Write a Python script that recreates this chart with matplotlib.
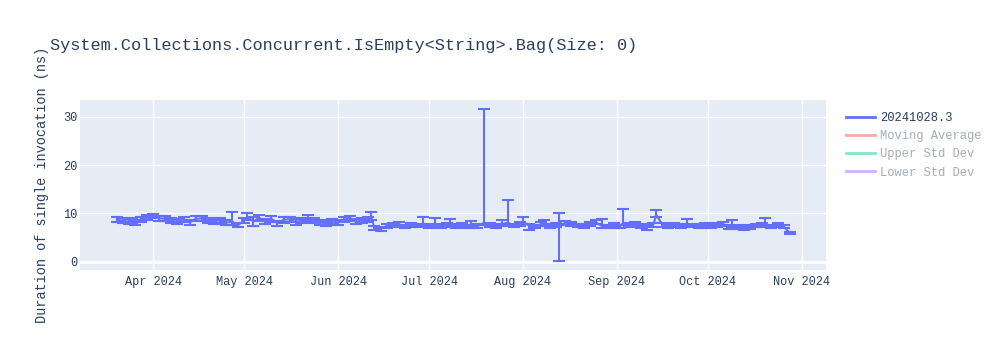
import matplotlib
matplotlib.use("Agg")
import matplotlib.pyplot as plt
import matplotlib.dates as mdates
from matplotlib.lines import Line2D
from datetime import datetime

# benchmark runs (2024), mean duration and error bar extents (ns)
month_days = {
    3: [20, 22, 24, 25, 26, 28, 30],
    4: [1, 3, 5, 7, 9, 11, 13, 15, 17, 19, 21, 23, 25, 27, 29],
    5: [1, 2, 4, 6, 8, 10, 12, 14, 16, 18, 20, 22, 24, 26, 28, 30],
    6: [1, 3, 5, 7, 9, 11, 12, 13, 15, 17, 19, 21, 23, 25, 27, 29],
    7: [1, 3, 5, 7, 8, 10, 12, 14, 15, 17, 19, 21, 23, 25, 27, 29, 31],
    8: [1, 3, 5, 7, 8, 10, 12, 13, 15, 17, 19, 21, 23, 25, 27, 29, 31],
    9: [2, 3, 5, 7, 9, 11, 13, 14, 16, 18, 20, 22, 24, 26, 28, 30],
    10: [2, 4, 6, 8, 9, 11, 13, 15, 17, 19, 20, 22, 24, 26, 28],
}

values = [
    8.7, 8.5, 8.3, 8.6, 8.1, 8.8, 9.2,
    9.4, 9.0, 8.9, 8.5, 8.3, 8.8, 8.2, 8.9, 9.0, 8.5, 8.4, 8.6, 8.1, 8.3, 7.6,
    8.5, 9.3, 8.4, 9.1, 8.3, 8.9, 8.0, 8.7, 8.8, 8.2, 8.6, 9.0, 8.5, 8.2, 7.9, 8.4,
    8.1, 8.7, 9.0, 8.3, 8.6, 8.7, 9.1, 7.0, 6.8, 7.4, 7.6, 7.8, 7.3, 7.7, 7.5, 7.8,
    7.4, 7.9, 7.4, 7.7, 7.8, 7.4, 7.7, 7.3, 7.9, 7.4, 8.0, 7.7, 7.4, 7.8, 8.1, 7.5, 7.9,
    8.3, 7.5, 7.3, 7.8, 7.9, 7.4, 7.7, 7.5, 8.1, 7.9, 7.5, 7.4, 7.8, 8.2, 7.4, 7.3, 7.6,
    7.3, 8.0, 7.7, 7.8, 7.4, 7.2, 7.7, 9.7, 7.7, 7.4, 7.7, 7.4, 7.7, 7.5, 7.3, 7.7,
    7.4, 7.7, 7.8, 7.2, 7.6, 7.2, 7.0, 7.2, 7.5, 7.7, 7.9, 7.3, 7.6, 7.3, 6.0,
]

err_minus = [
    0.5, 0.5, 0.5, 0.5, 0.5, 0.5, 0.5,
    0.4, 0.5, 0.5, 0.5, 0.5, 0.5, 0.5, 0.5, 0.5, 0.5, 0.5, 0.5, 0.5, 0.6, 0.4,
    0.5, 0.7, 0.9, 0.6, 0.5, 0.6, 0.5, 0.6, 0.5, 0.6, 0.5, 0.6, 0.5, 0.5, 0.5, 0.5,
    0.5, 0.5, 0.5, 0.5, 0.5, 0.5, 0.5, 0.4, 0.4, 0.4, 0.4, 0.4, 0.4, 0.4, 0.4, 0.4,
    0.4, 0.4, 0.4, 0.4, 0.4, 0.4, 0.4, 0.4, 0.4, 0.4, 0.4, 0.4, 0.4, 0.4, 0.5, 0.4, 0.4,
    0.5, 0.9, 0.4, 0.4, 0.4, 0.4, 0.4, 7.4, 0.4, 0.4, 0.4, 0.4, 0.4, 0.4, 0.4, 0.4, 0.4,
    0.4, 0.4, 0.4, 0.4, 0.4, 0.7, 0.4, 0.5, 0.4, 0.4, 0.4, 0.4, 0.4, 0.4, 0.4, 0.4,
    0.4, 0.4, 0.4, 0.4, 0.4, 0.4, 0.4, 0.4, 0.4, 0.4, 0.4, 0.4, 0.4, 0.4, 0.15,
]

err_plus = [
    0.5, 0.5, 0.5, 0.5, 0.5, 0.5, 0.5,
    0.4, 0.5, 0.5, 0.5, 0.5, 0.5, 0.5, 0.5, 0.5, 0.5, 0.5, 0.5, 0.5, 2.0, 0.4,
    0.5, 0.7, 0.8, 0.6, 0.5, 0.6, 0.5, 0.6, 0.5, 0.6, 0.5, 0.6, 0.5, 0.5, 0.5, 0.5,
    0.5, 0.5, 0.5, 0.5, 0.5, 0.5, 1.3, 0.4, 0.4, 0.4, 0.4, 0.4, 0.4, 0.4, 0.4, 1.5,
    0.4, 1.2, 0.4, 0.4, 1.0, 0.4, 0.4, 0.4, 0.6, 0.4, 23.7, 0.4, 0.4, 0.9, 4.7, 0.4, 0.4,
    1.0, 0.4, 0.4, 0.4, 0.8, 0.4, 0.4, 2.5, 0.4, 0.4, 0.4, 0.4, 0.4, 0.4, 1.5, 0.4, 0.4,
    0.4, 2.9, 0.4, 0.4, 0.4, 0.4, 0.4, 1.0, 0.4, 0.4, 0.4, 0.4, 1.2, 0.4, 0.4, 0.4,
    0.4, 0.4, 0.4, 0.4, 1.1, 0.4, 0.4, 0.4, 0.4, 0.4, 1.1, 0.4, 0.4, 0.4, 0.15,
]

month_ticks = [4, 5, 6, 7, 8, 9, 10, 11]
legend_names = ["20241028.3", "Moving Average", "Upper Std Dev", "Lower Std Dev"]
legend_colors = ["#636efa", "#EF553B", "#00cc96", "#ab63fa"]

dates = [datetime(2024, m, d) for m, days in month_days.items() for d in days]

plt.rcParams["font.family"] = ["Liberation Mono", "DejaVu Sans Mono"]
text_color = "#2a3f5f"

fig = plt.figure(figsize=(10, 3.5), dpi=100)
ax = fig.add_axes([0.08, 0.2286, 0.746, 0.4857])
ax.set_facecolor("#E5ECF6")

ax.errorbar(dates, values, yerr=[err_minus, err_plus], color="#636efa",
            linewidth=1.5, elinewidth=1.5, capsize=4.5, capthick=1.5, zorder=3)

ax.set_xlim(datetime(2024, 3, 7, 20), datetime(2024, 11, 9))
ax.set_ylim(-1.7, 33.5)
ax.set_yticks([0, 10, 20, 30])
ax.set_xticks([datetime(2024, m, 1) for m in month_ticks])
ax.xaxis.set_major_formatter(mdates.DateFormatter("%b %Y"))

ax.grid(True, color="white", linewidth=1)
ax.axhline(0, color="white", linewidth=2, zorder=1)
ax.set_axisbelow(True)
for s in ax.spines.values():
    s.set_visible(False)
ax.tick_params(length=0, labelsize=8.6, colors=text_color)
ax.tick_params(axis="x", pad=4)
ax.tick_params(axis="y", pad=2)

ax.set_ylabel("Duration of single invocation (ns)", fontsize=9.8, color=text_color, labelpad=10)
fig.text(0.05, 0.87, "System.Collections.Concurrent.IsEmpty<String>.Bag(Size: 0)",
         fontsize=12.2, color=text_color, va="center")

handles = [Line2D([], [], color=c, linewidth=2, alpha=1 if i == 0 else 0.5)
           for i, c in enumerate(legend_colors)]
leg = fig.legend(handles, legend_names, loc="upper left", bbox_to_anchor=(0.835, 0.71),
                 frameon=False, fontsize=8.7, handlelength=2.4, labelspacing=0.5,
                 handletextpad=0.45)
for i, t in enumerate(leg.get_texts()):
    t.set_color(text_color if i == 0 else "#a5adba")

fig.savefig("out.png", dpi=100)
